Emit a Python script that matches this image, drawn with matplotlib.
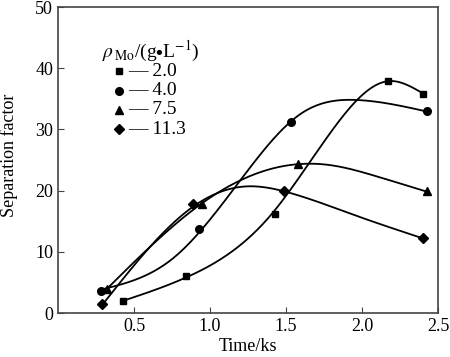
import numpy as np
import matplotlib
matplotlib.use('Agg')
import matplotlib.pyplot as plt

plt.rcParams['font.family'] = ['Liberation Serif', 'DejaVu Serif']
plt.rcParams['mathtext.fontset'] = 'stix'

labels = ['2.0', '4.0', '7.5', '11.3']
markers = ['s', 'o', '^', 'D']
x_sq = [0.43, 0.84, 1.43, 2.17, 2.40]
y_sq = [2.0, 6.0, 16.2, 37.9, 35.8]
x_ci = [0.28, 0.93, 1.53, 2.43]
y_ci = [3.6, 13.7, 31.2, 33.0]
x_tr = [0.32, 0.95, 1.58, 2.43]
y_tr = [3.9, 17.8, 24.3, 19.9]
x_di = [0.29, 0.89, 1.49, 2.40]
y_di = [1.5, 17.8, 19.9, 12.2]

# knots of the fitted trend curves
cx_sq = [0.43, 0.86, 1.40, 1.82, 2.18, 2.40]
cy_sq = [2.0, 6.0, 16.0, 30.4, 37.9, 35.9]
cx_ci = [0.28, 0.76, 1.20, 1.60, 1.97, 2.43]
cy_ci = [3.8, 9.0, 21.7, 32.6, 34.8, 32.9]
cx_tr = [0.32, 0.94, 1.38, 1.78, 2.10, 2.43]
cy_tr = [3.9, 17.8, 23.4, 24.2, 22.3, 19.8]
cx_di = [0.30, 0.89, 1.25, 1.50, 1.95, 2.40]
cy_di = [1.6, 17.4, 20.7, 19.8, 16.0, 12.2]

points = [(x_sq, y_sq), (x_ci, y_ci), (x_tr, y_tr), (x_di, y_di)]
curves = [(cx_sq, cy_sq), (cx_ci, cy_ci), (cx_tr, cy_tr), (cx_di, cy_di)]
msizes = [4.5, 5.5, 5.5, 5]


def natural_spline(xs, ys, n=300):
    x = np.asarray(xs, float)
    y = np.asarray(ys, float)
    k = len(x)
    h = np.diff(x)
    A = np.zeros((k, k))
    b = np.zeros(k)
    A[0, 0] = A[-1, -1] = 1
    for i in range(1, k - 1):
        A[i, i - 1] = h[i - 1]
        A[i, i] = 2 * (h[i - 1] + h[i])
        A[i, i + 1] = h[i]
        b[i] = 6 * ((y[i + 1] - y[i]) / h[i] - (y[i] - y[i - 1]) / h[i - 1])
    M = np.linalg.solve(A, b)
    xx = np.linspace(x[0], x[-1], n)
    j = np.clip(np.searchsorted(x, xx) - 1, 0, k - 2)
    t1 = x[j + 1] - xx
    t0 = xx - x[j]
    hj = h[j]
    yy = (M[j] * t1 ** 3 + M[j + 1] * t0 ** 3) / (6 * hj) \
        + (y[j] / hj - M[j] * hj / 6) * t1 + (y[j + 1] / hj - M[j + 1] * hj / 6) * t0
    return xx, yy


fig = plt.figure(figsize=(4.5, 3.57), dpi=100)
ax = fig.add_axes([58/450, 44/357, 380/450, 306/357])

for (cx, cy), (px, py), m, ms in zip(curves, points, markers, msizes):
    sx, sy = natural_spline(cx, cy)
    ax.plot(sx, sy, color='black', lw=1.3)
    ax.plot(px, py, linestyle='none', marker=m, color='black', markersize=ms)

ax.set_xlim(0, 2.5)
ax.set_ylim(0, 50)
ax.set_xticks([0.5, 1.0, 1.5, 2.0, 2.5])
ax.set_xticklabels(['0.5', '1.0', '1.5', '2.0', '2.5'])
ax.set_yticks([0, 10, 20, 30, 40, 50])
ax.tick_params(direction='in', length=4, labelsize=13, color='#444444')
for s in ax.spines.values():
    s.set_color('#444444')
    s.set_linewidth(1.2)
ax.set_xlabel('Time/ks', fontsize=13, labelpad=2)
ax.set_ylabel('Separation factor', fontsize=13)
ax.yaxis.set_label_coords(-0.105, 0.515)

# legend drawn by hand
ax.text(0.115, 0.855, r'$\rho_{\,\mathrm{Mo}}$/(g$\bullet$L$^{-1}$)', transform=ax.transAxes,
        fontsize=14, va='center', ha='left')
for i, (m, ms, lab) in enumerate(zip(markers, msizes, labels)):
    yy = 0.79 - i * 0.063
    ax.plot([0.16], [yy], transform=ax.transAxes, marker=m, color='black',
            markersize=ms, linestyle='none', clip_on=False)
    ax.text(0.185, yy, '\u2014 ' + lab, transform=ax.transAxes, fontsize=14,
            va='center', ha='left')

fig.savefig('out.png', dpi=100)
